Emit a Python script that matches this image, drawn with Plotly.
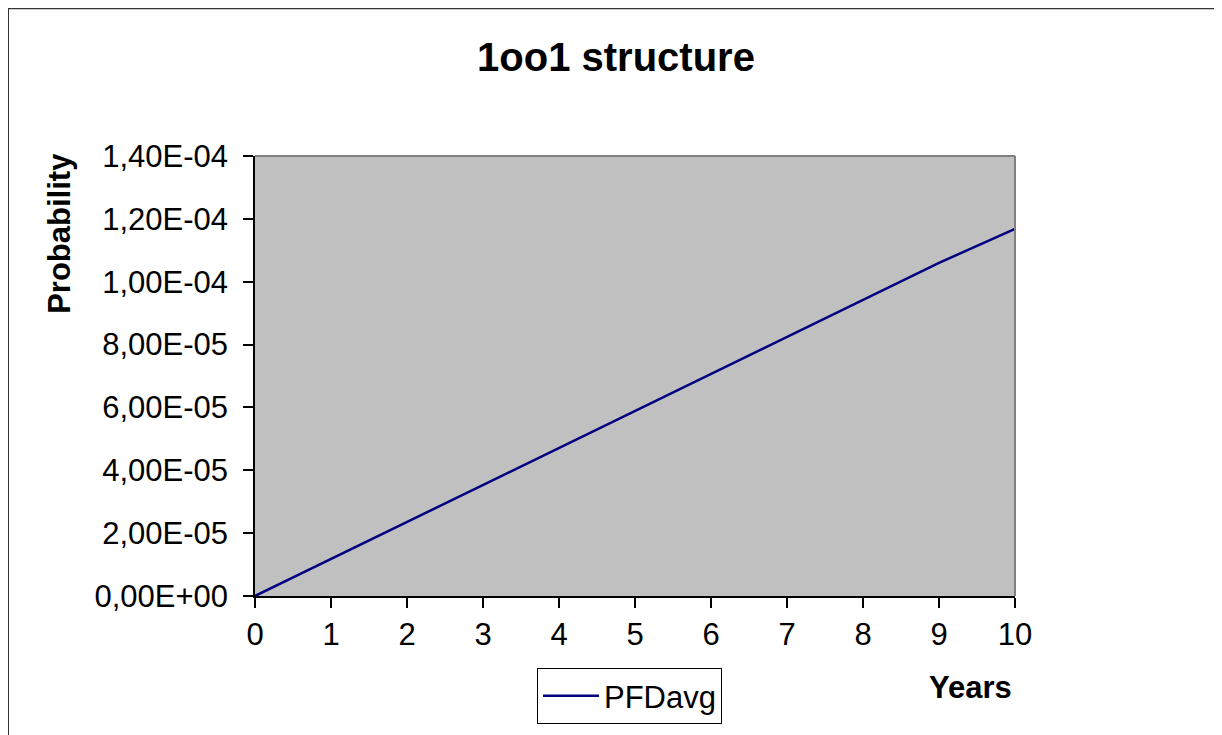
import plotly.graph_objects as go

years = [0, 1, 2, 3, 4, 5, 6, 7, 8, 9, 10]
pfdavg = [0.0, 1.18e-5, 2.36e-5, 3.54e-5, 4.72e-5, 5.90e-5, 7.07e-5, 8.25e-5, 9.43e-5, 1.060e-4, 1.168e-4]

y_tickvals = [0, 2e-5, 4e-5, 6e-5, 8e-5, 1e-4, 1.2e-4, 1.4e-4]
y_ticktext = ["0,00E+00", "2,00E-05", "4,00E-05", "6,00E-05", "8,00E-05",
              "1,00E-04", "1,20E-04", "1,40E-04"]
x_tickvals = [0, 1, 2, 3, 4, 5, 6, 7, 8, 9, 10]
x_ticktext = ["0", "1", "2", "3", "4", "5", "6", "7", "8", "9", "10"]

FONT = "Arial, 'Liberation Sans', sans-serif"
OFF = 8  # page body margin
W, H = 1222 - OFF, 735 - OFF
# plot area in page pixels: x 255..1015, y 156..597
L, R, T, B = 255 - OFF, 1222 - 1015, 156 - OFF, 735 - 597
pw, ph = W - L - R, H - T - B

def px(x):
    return (x - OFF - L) / pw

def py(y):
    return (H - B - (y - OFF)) / ph

fig = go.Figure()
fig.add_trace(go.Scatter(
    x=years, y=pfdavg, mode="lines", name="PFDavg",
    line=dict(color="#000080", width=2.5),
))

fig.update_layout(
    width=W, height=H,
    margin=dict(l=L, r=R, t=T, b=B, pad=0),
    paper_bgcolor="white",
    plot_bgcolor="#C0C0C0",
    font=dict(family=FONT, color="black", size=31),
    title=dict(text="<b>1oo1 structure</b>", x=(616 - OFF) / W, xanchor="center",
               y=1 - (57 - OFF) / H, yanchor="middle", font=dict(size=40, family=FONT)),
    showlegend=True,
    legend=dict(x=px(537), y=py(668), xanchor="left", yanchor="top",
                bgcolor="white", bordercolor="black", borderwidth=1,
                font=dict(size=31, family=FONT), itemwidth=56,
                tracegroupgap=0),
    xaxis=dict(range=[0, 10], tickvals=x_tickvals, ticktext=x_ticktext,
               showgrid=False, zeroline=False, showline=True,
               linecolor="black", linewidth=1.5, ticks="outside",
               ticklen=10, tickcolor="black", tickwidth=1.5,
               tickfont=dict(size=31, family=FONT), fixedrange=True),
    yaxis=dict(range=[0, 1.4e-4], tickvals=y_tickvals, ticktext=y_ticktext,
               showgrid=False, zeroline=False, showline=True,
               linecolor="black", linewidth=1.5, ticks="outside",
               ticklen=10, tickcolor="black", tickwidth=1.5,
               ticklabelstandoff=9,
               tickfont=dict(size=31, family=FONT), fixedrange=True),
    shapes=[
        dict(type="line", xref="paper", yref="paper", x0=0, x1=1, y0=1, y1=1,
             line=dict(color="#808080", width=2)),
        dict(type="line", xref="paper", yref="paper", x0=1, x1=1, y0=0, y1=1,
             line=dict(color="#808080", width=2)),
        dict(type="rect", xref="paper", yref="paper",
             x0=px(8), x1=px(1240), y0=py(8), y1=py(760),
             line=dict(color="#333333", width=2), fillcolor="rgba(0,0,0,0)"),
    ],
    annotations=[
        dict(text="<b>Probability</b>", xref="paper", yref="paper",
             x=px(60), y=py(233), textangle=-90, showarrow=False,
             xanchor="center", yanchor="middle", font=dict(size=31, family=FONT)),
        dict(text="<b>Years</b>", xref="paper", yref="paper",
             x=px(970), y=py(689), showarrow=False,
             xanchor="center", yanchor="middle", font=dict(size=31, family=FONT)),
    ],
)

fig.write_html("out.html")
